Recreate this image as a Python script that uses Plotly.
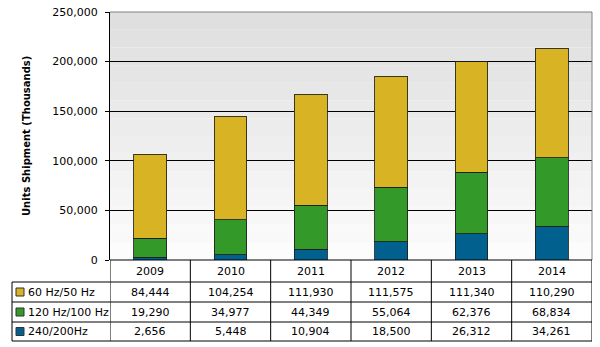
import plotly.graph_objects as go

years = ["2009", "2010", "2011", "2012", "2013", "2014"]
series_names = ["60 Hz/50 Hz", "120 Hz/100 Hz", "240/200Hz"]
hz60_50 = [84444, 104254, 111930, 111575, 111340, 110290]
hz120_100 = [19290, 34977, 44349, 55064, 62376, 68834]
hz240_200 = [2656, 5448, 10904, 18500, 26312, 34261]
y_ticks = [0, 50000, 100000, 150000, 200000, 250000]

colors = {"240/200Hz": "#02608F", "120 Hz/100 Hz": "#339A29", "60 Hz/50 Hz": "#D8B424"}
FONT = "DejaVu Sans"

W, H = 600, 347
ML, MR, MT, MB = 12, 8, 12, 6
pw, ph = W - ML - MR, H - MT - MB

def px_x(x):
    return (x - ML) / pw

def px_y(y):
    return (H - MB - y) / ph

fig = go.Figure()
stack = [("240/200Hz", hz240_200), ("120 Hz/100 Hz", hz120_100), ("60 Hz/50 Hz", hz60_50)]
for name, vals in stack:
    fig.add_trace(go.Bar(
        x=years, y=vals, name=name, width=0.41,
        marker=dict(color=colors[name], line=dict(color="rgba(30,30,30,0.85)", width=1)),
        showlegend=False, hoverinfo="skip",
    ))

shapes = []
nb = 14
for i in range(nb):
    t = i / (nb - 1)
    c = int(252 - (252 - 223) * t)
    shapes.append(dict(type="rect", xref="x domain", yref="y domain",
                       x0=0, x1=1, y0=i / nb, y1=(i + 1) / nb,
                       fillcolor=f"rgb({c},{c},{c})", line=dict(width=0), layer="below"))
shapes.append(dict(type="line", xref="x domain", yref="y domain", x0=0, x1=1, y0=1, y1=1,
                   line=dict(color="#808080", width=1)))
shapes.append(dict(type="line", xref="x domain", yref="y domain", x0=1, x1=1, y0=0, y1=1,
                   line=dict(color="#808080", width=1)))

row_lines = [260, 282, 302, 322, 341]
yb = [px_y(v) for v in row_lines]
xl = px_x(12)
line_c = dict(color="black", width=1)
shapes.append(dict(type="line", xref="paper", yref="paper", x0=px_x(110), x1=1, y0=yb[0], y1=yb[0], line=line_c))
for v in yb[1:]:
    shapes.append(dict(type="line", xref="paper", yref="paper", x0=xl, x1=1, y0=v, y1=v, line=line_c))
shapes.append(dict(type="line", xref="paper", yref="paper", x0=xl, x1=xl, y0=yb[1], y1=yb[-1], line=line_c))
for i in range(len(years) + 1):
    shapes.append(dict(type="line", xref="x", yref="paper", x0=i - 0.5, x1=i - 0.5,
                       y0=yb[0], y1=yb[-1], line=line_c))

annotations = []
txt_font = dict(family=FONT, size=11, color="black")
hdr_y = px_y((row_lines[0] + row_lines[1]) / 2)
for i, yr in enumerate(years):
    annotations.append(dict(x=i, y=hdr_y, xref="x", yref="paper", text=yr, showarrow=False,
                            xanchor="center", yanchor="middle", font=txt_font))
rows = [("60 Hz/50 Hz", hz60_50), ("120 Hz/100 Hz", hz120_100), ("240/200Hz", hz240_200)]
for r, (name, vals) in enumerate(rows):
    cy = px_y((row_lines[r + 1] + row_lines[r + 2]) / 2)
    shapes.append(dict(type="rect", xref="paper", yref="paper",
                       x0=px_x(16), x1=px_x(24), y0=cy - 4 / ph, y1=cy + 4 / ph,
                       fillcolor=colors[name], line=dict(color="#333333", width=1)))
    annotations.append(dict(x=px_x(26), y=cy, xref="paper", yref="paper", text=name,
                            showarrow=False, xanchor="left", yanchor="middle", font=txt_font))
    for i, v in enumerate(vals):
        annotations.append(dict(x=i, y=cy, xref="x", yref="paper", text=f"{v:,}",
                                showarrow=False, xanchor="center", yanchor="middle", font=txt_font))

annotations.append(dict(x=px_x(26), y=px_y(136), xref="paper", yref="paper",
                        text="<b>Units Shipment (Thousands)</b>", textangle=-90, showarrow=False,
                        xanchor="center", yanchor="middle",
                        font=dict(family=FONT, size=10, color="black")))

fig.update_layout(
    width=W, height=H, margin=dict(l=ML, r=MR, t=MT, b=MB, autoexpand=False),
    barmode="stack", paper_bgcolor="white", plot_bgcolor="white",
    font=dict(family=FONT, size=11, color="black"),
    shapes=shapes, annotations=annotations, showlegend=False,
    xaxis=dict(type="category", domain=[px_x(110), 1], range=[-0.5, 5.5], showticklabels=False,
               showgrid=False, zeroline=False, showline=False, ticks="", automargin=False),
    yaxis=dict(domain=[px_y(260), 1], range=[0, 250000], tickvals=y_ticks, automargin=False,
               ticktext=[f"{v:,}" for v in y_ticks], showgrid=True, gridcolor="black", gridwidth=1,
               zeroline=False, showline=True, linecolor="black", linewidth=1,
               ticks="outside", ticklen=4, tickcolor="black", ticklabelstandoff=5,
               tickfont=dict(family=FONT, size=11, color="black")),
)

fig.write_html("out.html")
